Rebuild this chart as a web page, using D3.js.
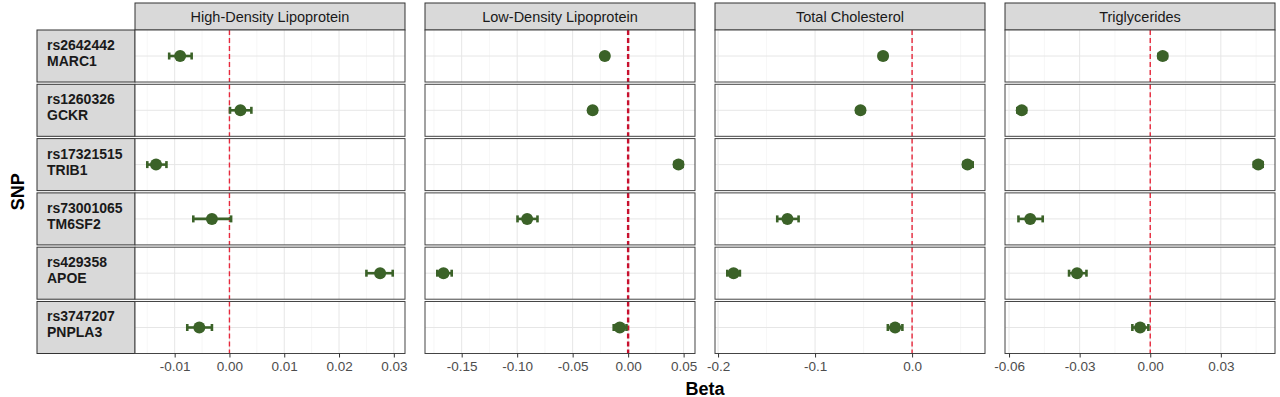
<!DOCTYPE html>
<meta charset="utf-8">
<script src="https://d3js.org/d3.v7.min.js"></script>
<style>
	body{
		margin:0;
		background:#fff;
		font-family:'Liberation Sans', Arial, sans-serif;
	}
</style>
<div id="chart"></div>
<script>
// facets
var traits = ["High-Density Lipoprotein","Low-Density Lipoprotein","Total Cholesterol","Triglycerides"]
var snps = ["rs2642442","rs1260326","rs17321515","rs73001065","rs429358","rs3747207"]
var genes = ["MARC1","GCKR","TRIB1","TM6SF2","APOE","PNPLA3"]

// beta and 95% CI, one value per SNP (same order as snps)
var hdlBeta = [-0.0090, 0.0020, -0.0134, -0.0032, 0.0275, -0.0055]
var hdlLow  = [-0.0110, 0.0001, -0.0150, -0.0066, 0.0250, -0.0077]
var hdlHigh = [-0.0069, 0.0040, -0.0115, 0.0003, 0.0298, -0.0032]

var ldlBeta = [-0.0210, -0.0320, 0.0454, -0.0910, -0.1664, -0.0075]
var ldlLow  = [-0.0240, -0.0350, 0.0418, -0.0997, -0.1720, -0.0130]
var ldlHigh = [-0.0180, -0.0290, 0.0492, -0.0817, -0.1590, -0.0015]

var tcBeta = [-0.0299, -0.0532, 0.0571, -0.1285, -0.1840, -0.0175]
var tcLow  = [-0.0340, -0.0570, 0.0530, -0.1390, -0.1905, -0.0250]
var tcHigh = [-0.0260, -0.0495, 0.0625, -0.1170, -0.1775, -0.0100]

var tgBeta = [0.0053, -0.0546, 0.0459, -0.0510, -0.0311, -0.0043]
var tgLow  = [0.0035, -0.0565, 0.0440, -0.0560, -0.0345, -0.0076]
var tgHigh = [0.0071, -0.0528, 0.0478, -0.0457, -0.0271, -0.0008]

// axis ticks
var hdlTicks = [-0.01, 0, 0.01, 0.02, 0.03]
var hdlLabels = ["-0.01","0.00","0.01","0.02","0.03"]
var ldlTicks = [-0.15, -0.10, -0.05, 0, 0.05]
var ldlLabels = ["-0.15","-0.10","-0.05","0.00","0.05"]
var tcTicks = [-0.2, -0.1, 0]
var tcLabels = ["-0.2","-0.1","0.0"]
var tgTicks = [-0.06, -0.03, 0, 0.03]
var tgLabels = ["-0.06","-0.03","0.00","0.03"]

var facets = [
	{beta:hdlBeta, low:hdlLow, high:hdlHigh, ticks:hdlTicks, labels:hdlLabels},
	{beta:ldlBeta, low:ldlLow, high:ldlHigh, ticks:ldlTicks, labels:ldlLabels},
	{beta:tcBeta, low:tcLow, high:tcHigh, ticks:tcTicks, labels:tcLabels},
	{beta:tgBeta, low:tgLow, high:tgHigh, ticks:tgTicks, labels:tgLabels}
]

var w = 1280
var h = 397
var green = "#3b6228"

var svg = d3.select("#chart").append("svg").attr("width",w).attr("height",h)

var colScale = d3.scaleBand().domain(traits).range([135,1275]).paddingInner(0.069)
var rowScale = d3.scaleBand().domain(snps).range([30,353.5]).paddingInner(0.042)

// left row strips
snps.forEach(function(s,j){
	var y0 = rowScale(s)
	svg.append("rect").attr("x",37).attr("y",y0).attr("width",135-37).attr("height",rowScale.bandwidth())
		.attr("fill","#d9d9d9").attr("stroke","#333").attr("stroke-width",1)
	var t = svg.append("text").attr("x",47).attr("y",y0+rowScale.bandwidth()/2-6)
		.style("font-size","14px").style("font-weight","bold").attr("fill","#1a1a1a")
	t.append("tspan").attr("x",47).text(s)
	t.append("tspan").attr("x",47).attr("dy",16).text(genes[j])
})

traits.forEach(function(trait,i){
	var f = facets[i]
	var x0 = colScale(trait)
	var bw = colScale.bandwidth()
	var lo = d3.min(f.low), hi = d3.max(f.high)
	var pad = (hi-lo)*0.05
	var x = d3.scaleLinear().domain([lo-pad,hi+pad]).range([x0,x0+bw])

	// minor grid positions: midpoints between ticks, extended by one step
	var step = f.ticks[1]-f.ticks[0]
	var minor = []
	for(var k=-1;k<f.ticks.length;k++){
		var m = f.ticks[0]+step*(k+0.5)
		if(m>x.domain()[0] && m<x.domain()[1]) minor.push(m)
	}

	// top strip
	svg.append("rect").attr("x",x0).attr("y",3).attr("width",bw).attr("height",27)
		.attr("fill","#d9d9d9").attr("stroke","#333").attr("stroke-width",1)
	svg.append("text").attr("x",x0+bw/2).attr("y",21.5).attr("text-anchor","middle")
		.style("font-size","14.5px").attr("fill","#1a1a1a").text(trait)

	snps.forEach(function(s,j){
		var y0 = rowScale(s)
		var rh = rowScale.bandwidth()
		var yc = y0+rh/2
		var g = svg.append("g")
		g.append("rect").attr("x",x0).attr("y",y0).attr("width",bw).attr("height",rh).attr("fill","#fff")
		g.selectAll(".minor").data(minor).join("line")
			.attr("x1",d=>x(d)).attr("x2",d=>x(d)).attr("y1",y0).attr("y2",y0+rh)
			.attr("stroke","#f2f2f2").attr("stroke-width",0.7)
		g.selectAll(".major").data(f.ticks).join("line")
			.attr("x1",d=>x(d)).attr("x2",d=>x(d)).attr("y1",y0).attr("y2",y0+rh)
			.attr("stroke","#e6e6e6").attr("stroke-width",1)
		g.append("line").attr("x1",x0).attr("x2",x0+bw).attr("y1",yc).attr("y2",yc)
			.attr("stroke","#e6e6e6").attr("stroke-width",1)

		// zero reference
		g.append("line").attr("x1",x(0)).attr("x2",x(0)).attr("y1",y0).attr("y2",y0+rh)
			.attr("stroke", i==1 ? "#c8102e" : "#e8283c")
			.attr("stroke-width", i==1 ? 2.4 : 1.4)
			.attr("stroke-dasharray","5,3")

		// error bar
		g.append("line").attr("x1",x(f.low[j])).attr("x2",x(f.high[j])).attr("y1",yc).attr("y2",yc)
			.attr("stroke",green).attr("stroke-width",2.6)
		g.selectAll(".cap").data([f.low[j],f.high[j]]).join("line")
			.attr("x1",d=>x(d)).attr("x2",d=>x(d)).attr("y1",yc-3.5).attr("y2",yc+3.5)
			.attr("stroke",green).attr("stroke-width",2.6)
		g.append("circle").attr("cx",x(f.beta[j])).attr("cy",yc).attr("r",6).attr("fill",green)

		g.append("rect").attr("x",x0).attr("y",y0).attr("width",bw).attr("height",rh)
			.attr("fill","none").attr("stroke","#444").attr("stroke-width",1)
	})

	var axis = svg.append("g").attr("transform","translate(0,"+(rowScale.range()[1])+")")
		.call(d3.axisBottom(x).tickValues(f.ticks).tickFormat((d,k)=>f.labels[k]).tickSize(4).tickPadding(4))
	axis.select(".domain").remove()
	axis.selectAll(".tick line").attr("stroke","#333")
	axis.selectAll(".tick text").attr("fill","#4d4d4d").style("font-size","13.5px")
		.style("font-family","'Liberation Sans', Arial, sans-serif")
})

svg.append("text").attr("x",(colScale.range()[0]+colScale.range()[1])/2).attr("y",394.5)
	.attr("text-anchor","middle").style("font-size","18px").style("font-weight","bold").attr("fill","#000").text("Beta")
svg.append("text").attr("transform","translate(24,"+((rowScale.range()[0]+rowScale.range()[1])/2)+") rotate(-90)")
	.attr("text-anchor","middle").style("font-size","18px").style("font-weight","bold").attr("fill","#000").text("SNP")
</script>
